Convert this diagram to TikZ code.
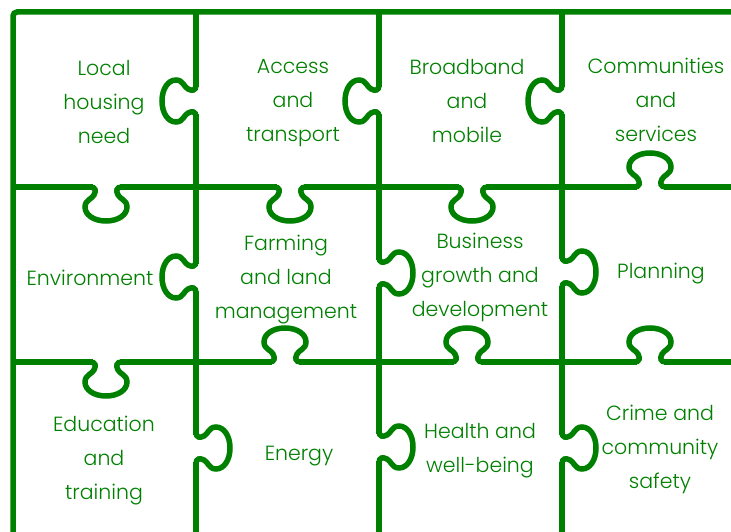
\documentclass[tikz,border=0pt]{standalone}
\usepackage{fontspec}
\setmainfont{Poppins}[UprightFont=* Light]
\definecolor{puzzlegreen}{RGB}{0,128,0}
\tikzset{
  puzzle/.style={draw=puzzlegreen, line width=5.5pt},
  piece/.style={text=puzzlegreen, align=center, font=\fontsize{20.5}{34}\selectfont},
  knob/.pic={
    \fill[white] (-13.5,-3.5) rectangle (13.5,3.5);
    \draw[puzzle] (-22,0) -- (-16,0) .. controls (-10,0) and (-10,4) .. (-12,8)
      .. controls (-14,12) and (-21,13) .. (-21,20) .. controls (-21,28) and (-12,34) .. (0,34)
      .. controls (12,34) and (21,28) .. (21,20) .. controls (21,13) and (14,12) .. (12,8)
      .. controls (10,4) and (10,0) .. (16,0) -- (22,0);
  }
}
\begin{document}
\begin{tikzpicture}[x=1pt,y=-1pt]
\useasboundingbox (0,0) rectangle (731,532);

% outline and grid
\draw[puzzle,rounded corners=4pt] (13,532) -- (13,12) -- (731,12);
\foreach \x in {196,379,562} {\draw[puzzle] (\x,12) -- (\x,532);}
\foreach \y in {187,362} {\draw[puzzle] (13,\y) -- (731,\y);}

% knobs: x / y / turn
\foreach \x/\y/\a in {106/187/0, 290/187/0, 472/187/0, 650/187/180,
                      106/362/0, 285/362/180, 467/362/180, 650/362/180,
                      196/101/-90, 196/277/-90, 196/448/90,
                      379/101/-90, 379/273/90, 379/447/90,
                      562/101/-90, 562/272/90, 562/448/90}
  {\path (\x,\y) pic[rotate=\a] {knob};}

% pieces
\node[piece] (local) at (104,102) {Local\\housing\\need};
\node[piece] (access) at (293,103) {Access\\and\\transport};
\node[piece] (broadband) at (467,101) {Broadband\\and\\mobile};
\node[piece] (communities) at (656,100) {Communities\\and\\services};
\node[piece] (environment) at (90,278) {Environment};
\node[piece] (farming) at (286,280) {Farming\\and land\\management};
\node[piece] (business) at (480,277) {Business\\growth and\\development};
\node[piece] (planning) at (661,274) {Planning};
\node[piece] (education) at (104,461) {Education\\and\\training};
\node[piece] (energy) at (299,456) {Energy};
\node[piece] (health) at (480,451) {Health and\\well-being};
\node[piece] (crime) at (660,449) {Crime and\\community\\safety};
\end{tikzpicture}
\end{document}
